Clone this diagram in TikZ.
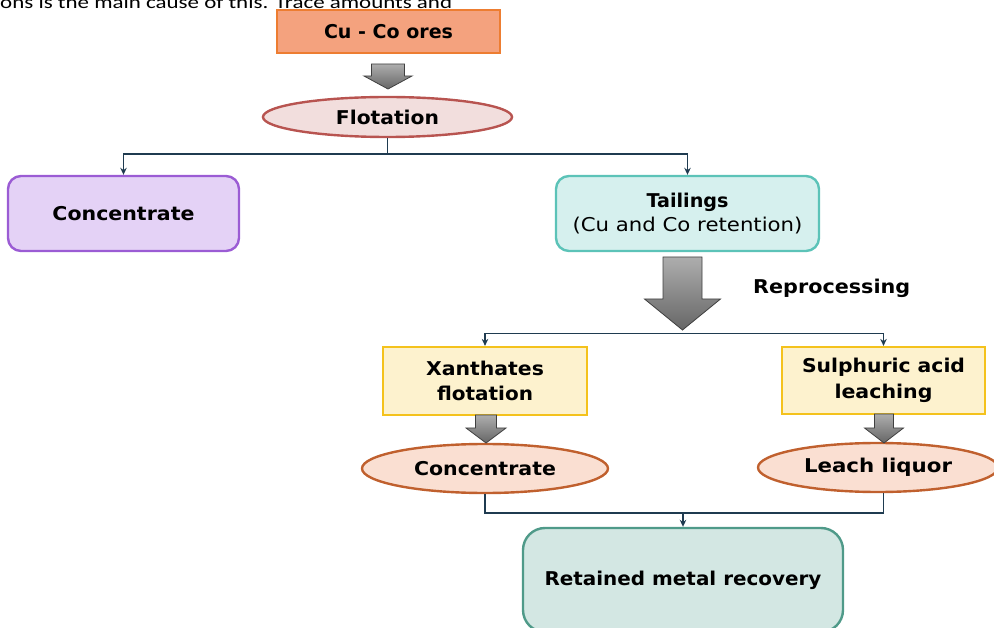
\documentclass[tikz,border=0pt]{standalone}
\usepackage{fontspec}
\usepackage{graphicx}
\setsansfont{DejaVu Sans}
\newfontfamily\carl{Carlito}
\usetikzlibrary{arrows.meta,shapes.geometric,calc}
\definecolor{cuFill}{HTML}{F4A27E}
\definecolor{cuLine}{HTML}{ED7D31}
\definecolor{flFill}{HTML}{F2DEDD}
\definecolor{flLine}{HTML}{B85450}
\definecolor{coFill}{HTML}{E4D2F6}
\definecolor{coLine}{HTML}{9B5CD4}
\definecolor{taFill}{HTML}{D6F0EE}
\definecolor{taLine}{HTML}{5CC3B8}
\definecolor{yeFill}{HTML}{FDF2CE}
\definecolor{yeLine}{HTML}{F4C21C}
\definecolor{peFill}{HTML}{FADFD2}
\definecolor{peLine}{HTML}{C0602E}
\definecolor{reFill}{HTML}{D3E7E3}
\definecolor{reLine}{HTML}{4F9A89}
\definecolor{cnLine}{HTML}{1F3B50}
\newcommand{\fw}[2]{\resizebox{#1pt}{\height}{#2}}
\newcommand{\blockarr}[6]{%
  \draw[barrow] (#1-#5,#2) -- (#1+#5,#2) -- (#1+#5,#3) -- (#1+#6,#3) -- (#1,#4) -- (#1-#6,#3) -- (#1-#5,#3) -- cycle;}
\begin{document}
\begin{tikzpicture}[x=1pt,y=-1pt,
  txt/.style={font=\sffamily\bfseries\fontsize{19}{25.5}\selectfont, text=black, align=center},
  rbox/.style={txt, draw, line width=2.4pt, rounded corners=13pt, inner sep=0pt},
  sbox/.style={txt, draw, line width=2.2pt, inner sep=0pt},
  ell/.style={txt, ellipse, draw, line width=2.4pt, inner sep=0pt},
  conn/.style={draw=cnLine, line width=1.7pt},
  arr/.style={conn, -{Stealth[length=7pt,width=6.5pt]}},
  barrow/.style={draw=black!75, line width=0.8pt, top color=black!32, bottom color=black!60}
]
\useasboundingbox (0,0) rectangle (994,628);
\clip (0,0) rectangle (994,628);

% clipped text at top
\node[anchor=base west, inner sep=0pt, font=\carl\fontsize{18}{20}\selectfont] (top) at (0,9) {\fw{452}{ons is the main cause of this. Trace amounts and}};

% nodes
\node[sbox, fill=cuFill, draw=cuLine, minimum width=223pt, minimum height=43pt] (cu) at (388.5,31.5) {\fw{129}{Cu - Co ores}};
\node[ell, fill=flFill, draw=flLine, minimum width=249pt, minimum height=40pt] (flot) at (387.5,117) {\fw{103}{Flotation}};
\node[rbox, fill=coFill, draw=coLine, minimum width=231pt, minimum height=75pt] (conc) at (123.5,213.5) {\fw{142}{Concentrate}};
\node[rbox, fill=taFill, draw=taLine, minimum width=263pt, minimum height=75pt] (tail) at (687.5,213.5) {\fw{82}{Tailings}\\[-1pt]\fw{230}{\mdseries (Cu and Co retention)}};
\node[txt, anchor=west, inner sep=0pt] (rep) at (753,288) {\fw{157}{Reprocessing}};
\node[sbox, fill=yeFill, draw=yeLine, minimum width=204pt, minimum height=68pt] (xan) at (485,381) {\fw{118}{Xanthates}\\\fw{96}{flotation}};
\node[sbox, fill=yeFill, draw=yeLine, minimum width=203pt, minimum height=67pt] (sul) at (883.5,380.5) {\fw{163}{Sulphuric acid}\\\fw{98}{leaching}};
\node[ell, fill=peFill, draw=peLine, minimum width=246pt, minimum height=49pt] (lc) at (485,468.5) {\fw{142}{Concentrate}};
\node[ell, fill=peFill, draw=peLine, minimum width=240pt, minimum height=49pt] (ll) at (878,467.5) {\fw{148}{Leach liquor}};
\node[rbox, fill=reFill, draw=reLine, rounded corners=22pt, minimum width=320pt, minimum height=104pt] (ret) at (683,580) {\fw{277}{Retained metal recovery}};

% block arrows
\blockarr{388}{64}{76}{89}{16.5}{24}
\blockarr{682.5}{257}{299}{330}{19.5}{38}
\blockarr{486}{415}{428}{443}{10.5}{20}
\blockarr{884}{414}{428}{443}{9.5}{19.5}

% connectors
\coordinate (j1) at ($(flot.south)+(0,16)$);
\draw[conn] (flot.south) -- (j1);
\draw[arr] (j1) -| (conc.north);
\draw[arr] (j1) -| (tail.north);

\coordinate (j2) at (683,333.5);
\draw[arr] (j2) -| (xan.north);
\draw[arr] (j2) -| (sul.north);

\coordinate (j3) at (683,513);
\draw[conn] (lc.south) |- (j3);
\draw[conn] (sul.south |- ll.south) |- (j3);
\draw[arr] (j3) -- (ret.north);
\end{tikzpicture}
\end{document}
